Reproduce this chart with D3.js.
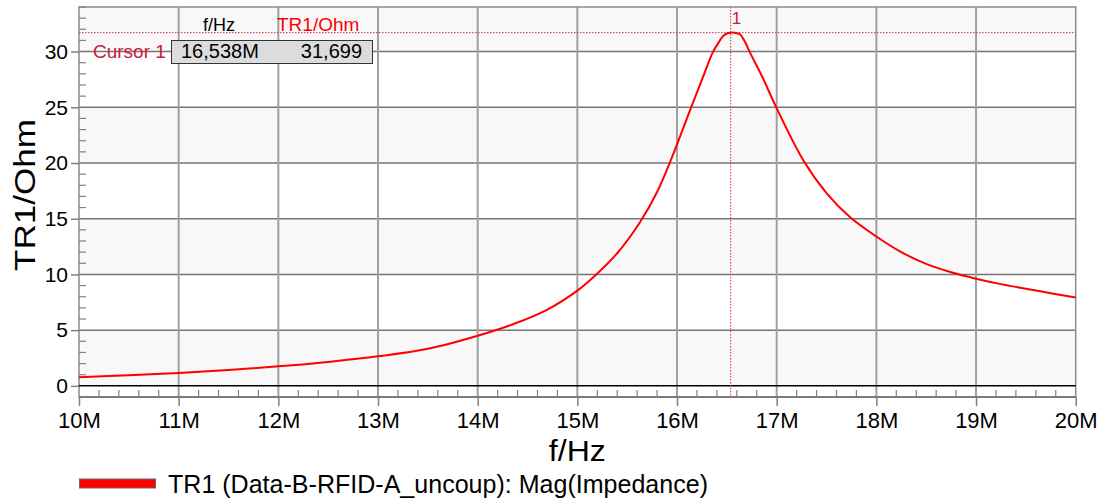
<!DOCTYPE html>
<html>
<head>
<meta charset="utf-8">
<script src="https://cdn.jsdelivr.net/npm/d3@7"></script>
<style>
  html, body { margin: 0; padding: 0; background: #fff; }
  svg { display: block; font-family: "Liberation Sans", Arial, sans-serif; }
</style>
</head>
<body>
<svg id="chart" width="1108" height="499"></svg>
<script>
// Impedance magnitude sweep, frequency in MHz, |Z| in Ohm
const freqMHz = [10, 10.5, 11, 11.5, 12, 12.5, 13, 13.5, 14, 14.36, 14.69, 15, 15.16, 15.4, 15.63,
  15.8, 15.94, 16.14, 16.26, 16.36, 16.42, 16.46, 16.5, 16.538, 16.58, 16.63, 16.68, 16.73,
  16.86, 16.99, 17.27, 17.5, 17.74, 18.0, 18.25, 18.5, 18.75, 19.0, 19.25, 19.5, 19.75, 20.0];
const impedance = [0.78, 0.95, 1.15, 1.42, 1.75, 2.15, 2.65, 3.33, 4.5, 5.55, 6.8, 8.55, 9.75, 11.9, 14.7,
  17.4, 20.3, 24.95, 27.7, 29.95, 30.85, 31.36, 31.62, 31.699, 31.68, 31.55, 30.9, 29.95,
  27.65, 25.1, 20.2, 17.3, 15.1, 13.4, 12.0, 10.95, 10.2, 9.62, 9.13, 8.72, 8.32, 7.92];

const xTicks = [10, 11, 12, 13, 14, 15, 16, 17, 18, 19, 20];
const xTickLabels = ["10M", "11M", "12M", "13M", "14M", "15M", "16M", "17M", "18M", "19M", "20M"];
const yTicks = [0, 5, 10, 15, 20, 25, 30];

const cursorFreq = 16.538;
const cursorValue = 31.699;
const cursorFreqLabel = "16,538M";
const cursorValueLabel = "31,699";
const seriesName = "TR1 (Data-B-RFID-A_uncoup): Mag(Impedance)";

const svg = d3.select("#chart");
const plotLeft = 79, plotRight = 1075.7, plotTop = 7, plotBottom = 397;
const x = d3.scaleLinear().domain([10, 20]).range([plotLeft, plotRight]);
const y = d3.scaleLinear().domain([-1, 34]).range([plotBottom, plotTop]);

// alternating background bands
const bandEdges = [0, 5, 10, 15, 20, 25, 30, 34];
const g = svg.append("g");
for (let i = 0; i < bandEdges.length - 1; i++) {
  if (i % 2 !== 0) continue;
  const lo = bandEdges[i], hi = bandEdges[i + 1];
  g.append("rect")
    .attr("x", plotLeft).attr("width", plotRight - plotLeft)
    .attr("y", y(hi)).attr("height", y(lo) - y(hi))
    .attr("fill", "#f8f8f8");
}

// grid
g.selectAll(".hgrid").data(yTicks.filter(v => v > 0)).join("line")
  .attr("x1", plotLeft).attr("x2", plotRight)
  .attr("y1", d => y(d)).attr("y2", d => y(d))
  .attr("stroke", "#767676").attr("stroke-width", 1.5);
g.selectAll(".vgrid").data(xTicks.slice(1, -1)).join("line")
  .attr("x1", d => x(d)).attr("x2", d => x(d))
  .attr("y1", plotTop).attr("y2", plotBottom)
  .attr("stroke", "#a0a0a0").attr("stroke-width", 2);

// frame
g.append("rect").attr("x", plotLeft).attr("y", plotTop)
  .attr("width", plotRight - plotLeft).attr("height", plotBottom - plotTop)
  .attr("fill", "none").attr("stroke", "#8c8c8c").attr("stroke-width", 1.5);
g.append("line").attr("x1", plotLeft).attr("x2", plotRight)
  .attr("y1", plotBottom).attr("y2", plotBottom)
  .attr("stroke", "#7a7a7a").attr("stroke-width", 2);
// zero line
g.append("line").attr("x1", plotLeft).attr("x2", plotRight)
  .attr("y1", y(0)).attr("y2", y(0))
  .attr("stroke", "#000").attr("stroke-width", 1.5);

// y axis
const yAxis = d3.axisLeft(y).tickValues(yTicks).tickSize(8).tickPadding(3).tickFormat(d3.format("d"));
const ya = svg.append("g").attr("transform", `translate(${plotLeft},0)`).call(yAxis);
ya.select(".domain").remove();
ya.selectAll(".tick line").attr("stroke", "#808080").attr("stroke-width", 1.5);
ya.selectAll(".tick text").attr("font-size", 21).attr("fill", "#000")
  .attr("font-family", "Liberation Sans, Arial, sans-serif");
// y minor ticks
const yMinor = d3.range(-1, 34.01, 1).filter(v => v % 5 !== 0);
svg.append("g").selectAll("line").data(yMinor).join("line")
  .attr("x1", plotLeft).attr("x2", plotLeft + 7)
  .attr("y1", d => y(d)).attr("y2", d => y(d))
  .attr("stroke", "#808080").attr("stroke-width", 1.2);

// x axis
const xAxis = d3.axisBottom(x).tickValues(xTicks).tickSize(9).tickPadding(6)
  .tickFormat((d, i) => xTickLabels[i]);
const xa = svg.append("g").attr("transform", `translate(0,${plotBottom})`).call(xAxis);
xa.select(".domain").remove();
xa.selectAll(".tick line").attr("stroke", "#808080").attr("stroke-width", 1.5);
xa.selectAll(".tick text").attr("font-size", 22).attr("fill", "#000")
  .attr("font-family", "Liberation Sans, Arial, sans-serif");
// x minor ticks
const xMinor = d3.range(10, 20.001, 0.2).filter(v => Math.abs(v - Math.round(v)) > 0.01);
svg.append("g").selectAll("line").data(xMinor).join("line")
  .attr("x1", d => x(d)).attr("x2", d => x(d))
  .attr("y1", plotBottom).attr("y2", plotBottom - 7)
  .attr("stroke", "#808080").attr("stroke-width", 1.2);

// axis titles
svg.append("text").attr("x", (plotLeft + plotRight) / 2).attr("y", 461)
  .attr("text-anchor", "middle").attr("font-size", 30).attr("fill", "#000")
  .attr("textLength", 57).attr("lengthAdjust", "spacingAndGlyphs")
  .text("f/Hz");
svg.append("text").attr("transform", `translate(35,195) rotate(-90)`)
  .attr("text-anchor", "middle").attr("font-size", 30).attr("fill", "#000")
  .attr("textLength", 152).attr("lengthAdjust", "spacingAndGlyphs")
  .text("TR1/Ohm");

// cursor lines
const cursorColor = "#d8304a";
svg.append("line").attr("x1", plotLeft).attr("x2", plotRight)
  .attr("y1", y(cursorValue)).attr("y2", y(cursorValue))
  .attr("stroke", cursorColor).attr("stroke-width", 1).attr("stroke-dasharray", "1.5,1.5");
svg.append("line").attr("x1", x(cursorFreq)).attr("x2", x(cursorFreq))
  .attr("y1", plotTop).attr("y2", plotBottom)
  .attr("stroke", cursorColor).attr("stroke-width", 1).attr("stroke-dasharray", "1.5,1.5");
svg.append("text").attr("x", x(cursorFreq) + 1).attr("y", 24)
  .attr("font-size", 17).attr("fill", "#c8203c").text("1");

// curve
const line = d3.line().x((d, i) => x(freqMHz[i])).y(d => y(d)).curve(d3.curveCatmullRom.alpha(0.5));
svg.append("path").datum(impedance).attr("d", line)
  .attr("fill", "none").attr("stroke", "#ff0000").attr("stroke-width", 2);

// cursor readout
svg.append("text").attr("x", 203).attr("y", 31).attr("font-size", 18).attr("fill", "#000").text("f/Hz");
svg.append("text").attr("x", 277).attr("y", 31).attr("font-size", 19).attr("fill", "#ff0000").text("TR1/Ohm");
svg.append("text").attr("x", 93).attr("y", 58).attr("font-size", 19).attr("fill", "#c8203c").text("Cursor 1");
svg.append("rect").attr("x", 171.5).attr("y", 40.5).attr("width", 201).attr("height", 23)
  .attr("fill", "#dcdcdc").attr("stroke", "#333").attr("stroke-width", 1);
svg.append("text").attr("x", 181).attr("y", 58).attr("font-size", 20).attr("fill", "#000").text(cursorFreqLabel);
svg.append("text").attr("x", 362).attr("y", 58).attr("text-anchor", "end").attr("font-size", 20).attr("fill", "#000").text(cursorValueLabel);

// legend
svg.append("rect").attr("x", 79.5).attr("y", 479).attr("width", 76).attr("height", 9)
  .attr("fill", "#ff0000").attr("stroke", "#666").attr("stroke-width", 1);
svg.append("text").attr("x", 168).attr("y", 493).attr("font-size", 26).attr("fill", "#000")
  .attr("textLength", 540).attr("lengthAdjust", "spacingAndGlyphs")
  .text(seriesName);
</script>
</body>
</html>
